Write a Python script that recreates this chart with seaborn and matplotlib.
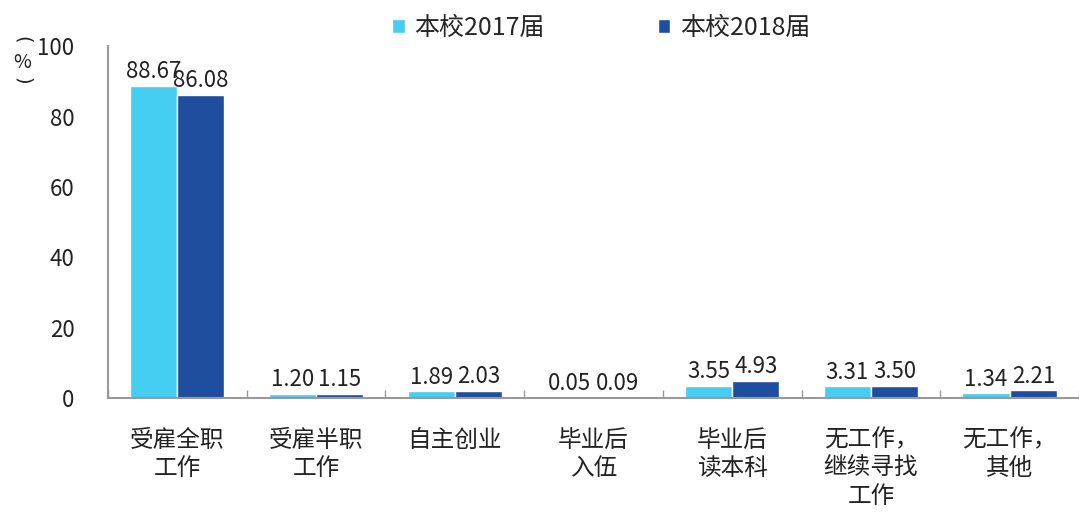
import pandas as pd
import numpy as np
import matplotlib.pyplot as plt
import seaborn as sns

categories = ["受雇全职\n工作", "受雇半职\n工作", "自主创业", "毕业后\n入伍", "毕业后\n读本科", "无工作，\n继续寻找\n工作", "无工作，\n其他"]
series_names = ["本校2017届", "本校2018届"]
values_2017 = [88.67, 1.20, 1.89, 0.05, 3.55, 3.31, 1.34]
values_2018 = [86.08, 1.15, 2.03, 0.09, 4.93, 3.50, 2.21]
yticks = [0, 20, 40, 60, 80, 100]

df = pd.DataFrame({
    "cat": categories * 2,
    "series": [series_names[0]] * len(categories) + [series_names[1]] * len(categories),
    "value": values_2017 + values_2018,
})

sns.set_theme(style="white")
plt.rcParams["font.family"] = ["Noto Sans CJK SC", "DejaVu Sans"]

fig = plt.figure(figsize=(10.79, 5.13), dpi=100)
ax = fig.add_axes([0.1, 0.224, 0.9, 0.686])

palette = ["#45CDF2", "#1F4E9E"]
sns.barplot(data=df, x="cat", y="value", hue="series", palette=palette,
            width=0.68, saturation=1, ax=ax, legend=True)

# value labels
for cont in ax.containers:
    ax.bar_label(cont, fmt="%.2f", padding=2, fontsize=16, color="#222222")

ax.set_ylim(0, 100)
ax.set_xlim(-0.5, len(categories) - 0.5)
ax.set_yticks(yticks)
ax.tick_params(axis="y", direction="in", length=5, color="#999999", labelsize=16, labelcolor="#222222", pad=24)
ax.tick_params(axis="x", which="major", length=0, labelsize=17, labelcolor="#222222", pad=22)
for lbl in ax.get_xticklabels():
    lbl.set_linespacing(1.3)
ax.set_xticks(np.arange(-0.5, len(categories), 1), minor=True)
ax.tick_params(axis="x", which="minor", direction="in", length=6, color="#999999", bottom=True)
ax.set_xlabel("")
ax.set_ylabel("")

for s in ["top", "right"]:
    ax.spines[s].set_visible(False)
for s in ["left", "bottom"]:
    ax.spines[s].set_color("#999999")
    ax.spines[s].set_linewidth(1.5)

# vertical "(%)" unit label: brackets turned sideways, % upright
fig.text(0.0204, 0.922, "(", rotation=270, ha="center", va="center", fontsize=14,
         color="#222222", family="DejaVu Sans")
fig.text(0.0204, 0.879, "%", ha="center", va="center", fontsize=14, color="#222222")
fig.text(0.0204, 0.842, ")", rotation=270, ha="center", va="center", fontsize=14,
         color="#222222", family="DejaVu Sans")

ax.legend(loc="center", bbox_to_anchor=(0.508, 1.051), ncol=2, frameon=False,
          fontsize=18, handlelength=0.5, handleheight=0.5, columnspacing=4.5, handletextpad=0.4)

fig.savefig("out.png", dpi=100)
